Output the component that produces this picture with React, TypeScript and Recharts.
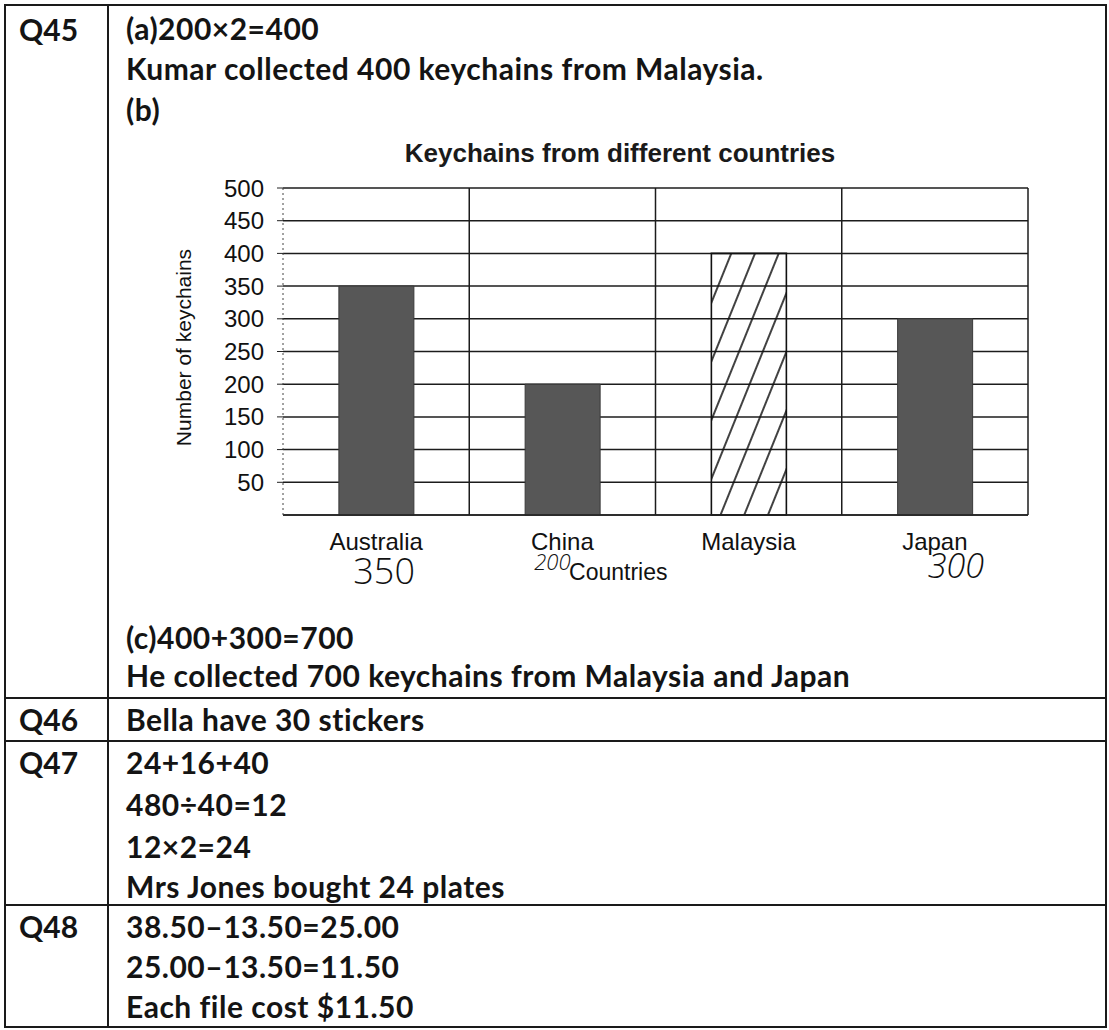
import React from 'react';
import { BarChart, Bar, XAxis, YAxis, CartesianGrid, Cell, Label } from 'recharts';

// ---- chart data ----
const countries = ['Australia', 'China', 'Malaysia', 'Japan'];
const keychains = [350, 200, 400, 300];
const yTicks = [50, 100, 150, 200, 250, 300, 350, 400, 450, 500];
const handNotes = ['350', '200', '', '300'];
const hatchedCountry = 'Malaysia';
const chartTitle = 'Keychains from different countries';
const yTitle = 'Number of keychains';
const xTitle = 'Countries';

const data = countries.map((c, i) => ({ country: c, keychains: keychains[i] }));

// ---- worksheet text (layout) ----
const qLabels: [string, number][] = [
  ['Q45', 30],
  ['Q46', 720],
  ['Q47', 763],
  ['Q48', 927],
];
const answerLines: [string, number][] = [
  ['(a)200×2=400', 29],
  ['Kumar collected 400 keychains from Malaysia.', 69],
  ['(b)', 110],
  ['(c)400+300=700', 638],
  ['He collected 700 keychains from Malaysia and Japan', 676],
  ['Bella have 30 stickers', 720],
  ['24+16+40', 763],
  ['480÷40=12', 805],
  ['12×2=24', 847],
  ['Mrs Jones bought 24 plates', 887],
  ['38.50–13.50=25.00', 927],
  ['25.00–13.50=11.50', 967],
  ['Each file cost $11.50', 1007],
];
const rowLines = [698, 741, 905];

const ARIAL = "'Liberation Sans', Arial, sans-serif";
const HAND = "'Open Sans', 'DejaVu Sans', sans-serif";
const SHEET = "Lato, 'Open Sans', sans-serif";

const noteStyle = [
  { dx: 8, dy: 51, size: 36, italic: false },
  { dx: -10, dy: 37, size: 22, italic: true },
  { dx: 0, dy: 0, size: 0, italic: false },
  { dx: 21, dy: 45, size: 34, italic: true },
];

const CountryTick = (props: any) => {
  const { x, y, payload, index } = props;
  const note = handNotes[index];
  const st = noteStyle[index];
  return (
    <g>
      <text x={x} y={y + 17} textAnchor="middle" fontFamily={ARIAL} fontSize={24} fill="#111">
        {payload.value}
      </text>
      {note ? (
        <text
          x={x + st.dx}
          y={y + st.dy}
          textAnchor="middle"
          fontFamily={HAND}
          fontWeight={300}
          fontStyle={st.italic ? 'italic' : 'normal'}
          fontSize={st.size}
          fill="#111"
        >
          {note}
        </text>
      ) : null}
    </g>
  );
};

const YTitle = (props: any) => {
  const vb = props.viewBox || {};
  const cx = vb.x + 10;
  const cy = vb.y + vb.height / 2 - 4;
  return (
    <text
      x={cx}
      y={cy}
      transform={`rotate(-90 ${cx} ${cy})`}
      textAnchor="middle"
      dominantBaseline="central"
      fontFamily={ARIAL}
      fontSize={21}
      fill="#111"
    >
      {yTitle}
    </text>
  );
};

const XTitle = (props: any) => {
  const vb = props.viewBox || {};
  return (
    <text x={vb.x + vb.width * 0.45} y={vb.y + 65} textAnchor="middle" fontFamily={ARIAL} fontSize={23} fill="#111">
      {xTitle}
    </text>
  );
};

const boundaryGen = (p: any) => {
  const { xAxis, offset } = p;
  const end = offset.left + offset.width;
  const s = xAxis && xAxis.scale;
  if (s && typeof s === 'function') {
    const pts = countries.slice(1).map((c) => s(c)).filter((v: any) => typeof v === 'number' && !isNaN(v));
    if (pts.length === countries.length - 1) return [...pts, end];
  }
  return countries
    .slice(1)
    .map((_, i) => offset.left + (offset.width * (i + 1)) / countries.length)
    .concat(end);
};

export default function App() {
  return (
    <div style={{ position: 'absolute', left: 0, top: 0, width: 1109, height: 1030, background: '#fff', overflow: 'hidden' }}>
      <svg width={1109} height={1030} style={{ position: 'absolute', left: 0, top: 0 }}>
        <defs>
          <pattern id="hatch" patternUnits="userSpaceOnUse" width={22} height={22} patternTransform="rotate(22)">
            <line x1={2} y1={0} x2={2} y2={22} stroke="#111" strokeWidth={1.6} />
          </pattern>
        </defs>
        <rect x={0} y={0} width={1109} height={1030} fill="#fff" />
        {/* table frame */}
        <rect x={5} y={5} width={1101} height={1022} fill="none" stroke="#1a1a1a" strokeWidth={2} />
        <line x1={108} y1={5} x2={108} y2={1027} stroke="#1a1a1a" strokeWidth={2} />
        {rowLines.map((y) => (
          <line key={y} x1={5} y1={y} x2={1106} y2={y} stroke="#1a1a1a" strokeWidth={2} />
        ))}
        {qLabels.map(([t, y]) => (
          <text key={t} x={19} y={y + 11} fontFamily={SHEET} fontWeight={700} fontSize={30} fill="#141414">
            {t}
          </text>
        ))}
        {answerLines.map(([t, y], i) => (
          <text
            key={i}
            x={126}
            y={y + 11}
            fontFamily={SHEET}
            fontWeight={700}
            fontSize={30}
            letterSpacing={0.5}
            fill="#141414"
          >
            {t}
          </text>
        ))}
        <text x={620} y={162} textAnchor="middle" fontFamily={ARIAL} fontWeight={700} fontSize={26} fill="#1a1a1a">
          {chartTitle}
        </text>
      </svg>
      <div style={{ position: 'absolute', left: 0, top: 120 }}>
        <BarChart
          width={1109}
          height={480}
          data={data}
          margin={{ top: 68, right: 81, bottom: 55, left: 173 }}
          barCategoryGap="30%"
        >
          <CartesianGrid
            stroke="#1c1c1c"
            strokeWidth={1.5}
            horizontal
            vertical
            verticalCoordinatesGenerator={boundaryGen}
          />
          <XAxis
            dataKey="country"
            height={30}
            interval={0}
            tickLine={false}
            tickSize={6}
            tickMargin={12}
            axisLine={{ stroke: '#222', strokeWidth: 1.5 }}
            tick={<CountryTick />}
          >
            <Label content={<XTitle />} />
          </XAxis>
          <YAxis
            width={110}
            domain={[0, 500]}
            ticks={yTicks}
            interval={0}
            tickSize={6}
            tickMargin={13}
            tick={{ fontFamily: ARIAL, fontSize: 24, fill: '#111' }}
            tickLine={{ stroke: '#222' }}
            axisLine={{ stroke: '#444', strokeDasharray: '2 3' }}
          >
            <Label content={<YTitle />} />
          </YAxis>
          <Bar dataKey="keychains" isAnimationActive={false}>
            {data.map((d) => (
              <Cell
                key={d.country}
                fill={d.country === hatchedCountry ? 'url(#hatch)' : '#575757'}
                stroke={d.country === hatchedCountry ? '#111' : '#3a3a3a'}
                strokeWidth={d.country === hatchedCountry ? 1.6 : 1}
              />
            ))}
          </Bar>
        </BarChart>
      </div>
    </div>
  );
}
